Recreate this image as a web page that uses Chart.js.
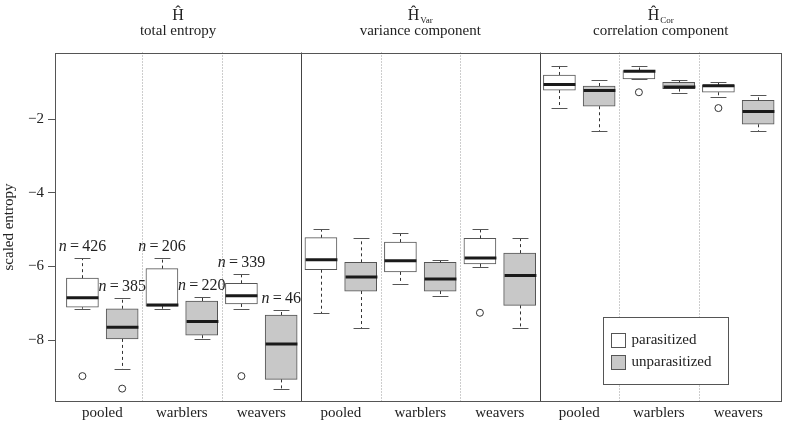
<!DOCTYPE html>
<html>
<head>
<meta charset="utf-8">
<script src="https://cdn.jsdelivr.net/npm/chart.js@4.4.0/dist/chart.umd.min.js"></script>
<style>
  html, body { margin: 0; padding: 0; background: #fff; }
  #wrap { width: 787px; height: 421px; }
</style>
</head>
<body>
<div id="wrap"><canvas id="entropyChart" width="787" height="421"></canvas></div>
<script>
// Labels
const groups = ["pooled", "warblers", "weavers"]
const panelTitles = ["total entropy", "variance component", "correlation component"]
const panelSubs = ["", "Var", "Cor"]
const seriesNames = ["parasitized", "unparasitized"]
const yTicks = [-2, -4, -6, -8]

// One entry per box, left to right (parasitized / unparasitized alternate)
const boxPos = [1, 2, 3, 4, 5, 6, 7, 8, 9, 10, 11, 12, 13, 14, 15, 16, 17, 18]
const whiskerHigh = [-5.78, -6.85, -5.77, -6.84, -6.21, -7.18, -4.99, -5.23, -5.08, -5.83, -4.99, -5.23, -0.55, -0.94, -0.55, -0.94, -1.00, -1.35]
const q3 = [-6.32, -7.15, -6.06, -6.94, -6.46, -7.32, -5.22, -5.89, -5.34, -5.89, -5.24, -5.64, -0.80, -1.10, -0.68, -1.00, -1.07, -1.49]
const median = [-6.85, -7.65, -7.05, -7.50, -6.80, -8.11, -5.82, -6.29, -5.85, -6.34, -5.77, -6.25, -1.06, -1.22, -0.70, -1.13, -1.09, -1.79]
const q1 = [-7.11, -7.97, -7.08, -7.87, -7.02, -9.07, -6.09, -6.67, -6.15, -6.67, -5.93, -7.06, -1.21, -1.65, -0.91, -1.17, -1.27, -2.14]
const whiskerLow = [-7.15, -8.79, -7.15, -7.98, -7.15, -9.33, -7.27, -7.67, -6.47, -6.80, -6.02, -7.67, -1.70, -2.33, -0.91, -1.28, -1.39, -2.33]

// Outliers
const outlierPos = [1, 2, 5, 11, 15, 17]
const outlierVal = [-8.98, -9.32, -8.98, -7.26, -1.27, -1.70]

// Sample sizes shown over the first panel
const sampleSizes = [426, 385, 206, 220, 339, 46]

// Separators between groups and panels
const groupSeps = [2.5, 4.5, 8.5, 10.5, 14.5, 16.5]
const panelSeps = [6.5, 12.5]

const groupCenters = boxPos.filter((p, i) => i % 2 === 0).map((p) => p + 0.5)

const boxData = boxPos.map((p, i) => ({ x: p, y: [q1[i], q3[i]] }))

const FONT = "'Liberation Serif', 'DejaVu Serif', serif"
Chart.defaults.font.family = FONT

const boxPlotPlugin = {
  id: "boxPlot",
  beforeDatasetsDraw(chart) {
    const { ctx, chartArea, scales } = chart
    const x = scales.x
    ctx.save()
    ctx.lineWidth = 1

    // dotted group separators
    ctx.strokeStyle = "#9a9a9a"
    ctx.setLineDash([1, 2])
    groupSeps.forEach((v) => {
      const px = Math.round(x.getPixelForValue(v)) + 0.5
      ctx.beginPath()
      ctx.moveTo(px, chartArea.top)
      ctx.lineTo(px, chartArea.bottom)
      ctx.stroke()
    })

    // solid panel separators
    ctx.setLineDash([])
    ctx.strokeStyle = "#444"
    panelSeps.forEach((v) => {
      const px = Math.round(x.getPixelForValue(v)) + 0.5
      ctx.beginPath()
      ctx.moveTo(px, chartArea.top)
      ctx.lineTo(px, chartArea.bottom)
      ctx.stroke()
    })

    // frame
    ctx.strokeStyle = "#555"
    ctx.strokeRect(
      Math.round(chartArea.left) + 0.5,
      Math.round(chartArea.top) + 0.5,
      Math.round(chartArea.right - chartArea.left) - 1,
      Math.round(chartArea.bottom - chartArea.top) - 1
    )
    ctx.restore()
  },
  afterDatasetsDraw(chart) {
    const { ctx, chartArea, scales } = chart
    const x = scales.x
    const y = scales.y
    const unit = x.getPixelForValue(1) - x.getPixelForValue(0)
    const boxHalf = unit * 0.4
    const capHalf = boxHalf / 2

    ctx.save()
    boxPos.forEach((p, i) => {
      const cx = Math.round(x.getPixelForValue(p)) + 0.5
      const yHi = y.getPixelForValue(whiskerHigh[i])
      const yQ3 = y.getPixelForValue(q3[i])
      const yQ1 = y.getPixelForValue(q1[i])
      const yLo = y.getPixelForValue(whiskerLow[i])
      const yMed = y.getPixelForValue(median[i])

      // dashed whiskers
      ctx.strokeStyle = "#333"
      ctx.lineWidth = 1
      ctx.setLineDash([3, 3])
      ctx.beginPath()
      ctx.moveTo(cx, yQ3)
      ctx.lineTo(cx, yHi)
      ctx.moveTo(cx, yQ1)
      ctx.lineTo(cx, yLo)
      ctx.stroke()

      // caps
      ctx.setLineDash([])
      ctx.strokeStyle = "#555"
      ctx.beginPath()
      ctx.moveTo(cx - capHalf, Math.round(yHi) + 0.5)
      ctx.lineTo(cx + capHalf, Math.round(yHi) + 0.5)
      ctx.moveTo(cx - capHalf, Math.round(yLo) + 0.5)
      ctx.lineTo(cx + capHalf, Math.round(yLo) + 0.5)
      ctx.stroke()

      // median
      ctx.strokeStyle = "#1a1a1a"
      ctx.lineWidth = 3
      ctx.beginPath()
      ctx.moveTo(cx - boxHalf, yMed)
      ctx.lineTo(cx + boxHalf, yMed)
      ctx.stroke()
    })

    // sample sizes
    ctx.fillStyle = "#222"
    ctx.textBaseline = "alphabetic"
    ctx.textAlign = "left"
    sampleSizes.forEach((n, i) => {
      const cx = x.getPixelForValue(boxPos[i])
      const base = y.getPixelForValue(whiskerHigh[i]) - 7
      ctx.font = "italic 16px " + FONT
      const w1 = ctx.measureText("n").width
      ctx.font = "16px " + FONT
      const rest = "\u2009=\u2009" + n
      const w2 = ctx.measureText(rest).width
      const start = cx - (w1 + w2) / 2
      ctx.font = "italic 16px " + FONT
      ctx.fillText("n", start, base)
      ctx.font = "16px " + FONT
      ctx.fillText(rest, start + w1, base)
    })

    // panel titles
    const edges = [chartArea.left, ...panelSeps.map((v) => x.getPixelForValue(v)), chartArea.right]
    panelTitles.forEach((t, i) => {
      const cx = (edges[i] + edges[i + 1]) / 2
      ctx.font = "16px " + FONT
      const wH = ctx.measureText("\u0124").width
      ctx.font = "9px " + FONT
      const wS = panelSubs[i] ? ctx.measureText(panelSubs[i]).width + 1 : 0
      const start = cx - (wH + wS) / 2
      ctx.textAlign = "left"
      ctx.font = "16px " + FONT
      ctx.fillText("\u0124", start, 20)
      if (panelSubs[i]) {
        ctx.font = "9px " + FONT
        ctx.fillText(panelSubs[i], start + wH + 1, 23)
      }
      ctx.textAlign = "center"
      ctx.font = "15px " + FONT
      ctx.fillText(t, cx, 35)
    })

    // legend
    const lx = 603.5, ly = 317.5, lw = 125, lh = 67
    ctx.lineWidth = 1
    ctx.strokeStyle = "#555"
    ctx.fillStyle = "#fff"
    ctx.fillRect(lx, ly, lw, lh)
    ctx.strokeRect(lx, ly, lw, lh)
    const fills = ["#ffffff", "#c8c8c8"]
    seriesNames.forEach((name, i) => {
      const sy = ly + 16 + i * 22
      ctx.fillStyle = fills[i]
      ctx.fillRect(lx + 8, sy, 14, 14)
      ctx.strokeStyle = "#555"
      ctx.strokeRect(lx + 8, sy, 14, 14)
      ctx.fillStyle = "#222"
      ctx.textAlign = "left"
      ctx.textBaseline = "middle"
      ctx.font = "15px " + FONT
      ctx.fillText(name, lx + 28, sy + 7)
    })
    ctx.restore()
  },
}

const ctx = document.getElementById("entropyChart").getContext("2d")

const entropyChart = new Chart(ctx, {
  type: "bar",
  data: {
    datasets: [
      {
        label: seriesNames[0],
        data: boxData.filter((d, i) => i % 2 === 0),
        backgroundColor: "#ffffff",
        borderColor: "#555",
        borderWidth: 1,
        borderSkipped: false,
        barThickness: 32,
        grouped: false,
      },
      {
        label: seriesNames[1],
        data: boxData.filter((d, i) => i % 2 === 1),
        backgroundColor: "#c8c8c8",
        borderColor: "#555",
        borderWidth: 1,
        borderSkipped: false,
        barThickness: 32,
        grouped: false,
      },
      {
        type: "scatter",
        label: "outliers",
        data: outlierPos.map((p, i) => ({ x: p, y: outlierVal[i] })),
        pointStyle: "circle",
        pointRadius: 3.5,
        borderColor: "#333",
        backgroundColor: "rgba(0,0,0,0)",
        borderWidth: 1,
      },
    ],
  },
  options: {
    responsive: false,
    animation: false,
    layout: { padding: { top: 52.5, right: 4, bottom: 0, left: 0 } },
    plugins: {
      legend: { display: false },
      tooltip: { enabled: false },
    },
    scales: {
      x: {
        type: "linear",
        min: 0.31,
        max: 18.6,
        offset: false,
        grid: { display: false, drawTicks: false },
        border: { display: false },
        afterBuildTicks: (scale) => {
          scale.ticks = groupCenters.map((v) => ({ value: v }))
        },
        ticks: {
          autoSkip: false,
          maxRotation: 0,
          padding: 3,
          color: "#222",
          font: { size: 15 },
          callback: (value, index) => groups[index % groups.length],
        },
        afterFit: (scale) => {
          scale.height = 19.5
        },
      },
      y: {
        min: -9.67,
        max: -0.19,
        grid: { drawOnChartArea: false, drawTicks: true, tickLength: 7, color: "#555" },
        border: { display: false },
        afterBuildTicks: (scale) => {
          scale.ticks = yTicks.map((v) => ({ value: v }))
        },
        ticks: {
          padding: 4,
          color: "#222",
          font: { size: 15 },
          callback: (value) => String(value).replace("-", "\u2212"),
        },
        title: {
          display: true,
          text: "scaled entropy",
          color: "#222",
          font: { size: 15 },
          padding: { top: 0, bottom: 0 },
        },
        afterFit: (scale) => {
          scale.width = 55
        },
      },
    },
  },
  plugins: [boxPlotPlugin],
})
</script>
</body>
</html>
